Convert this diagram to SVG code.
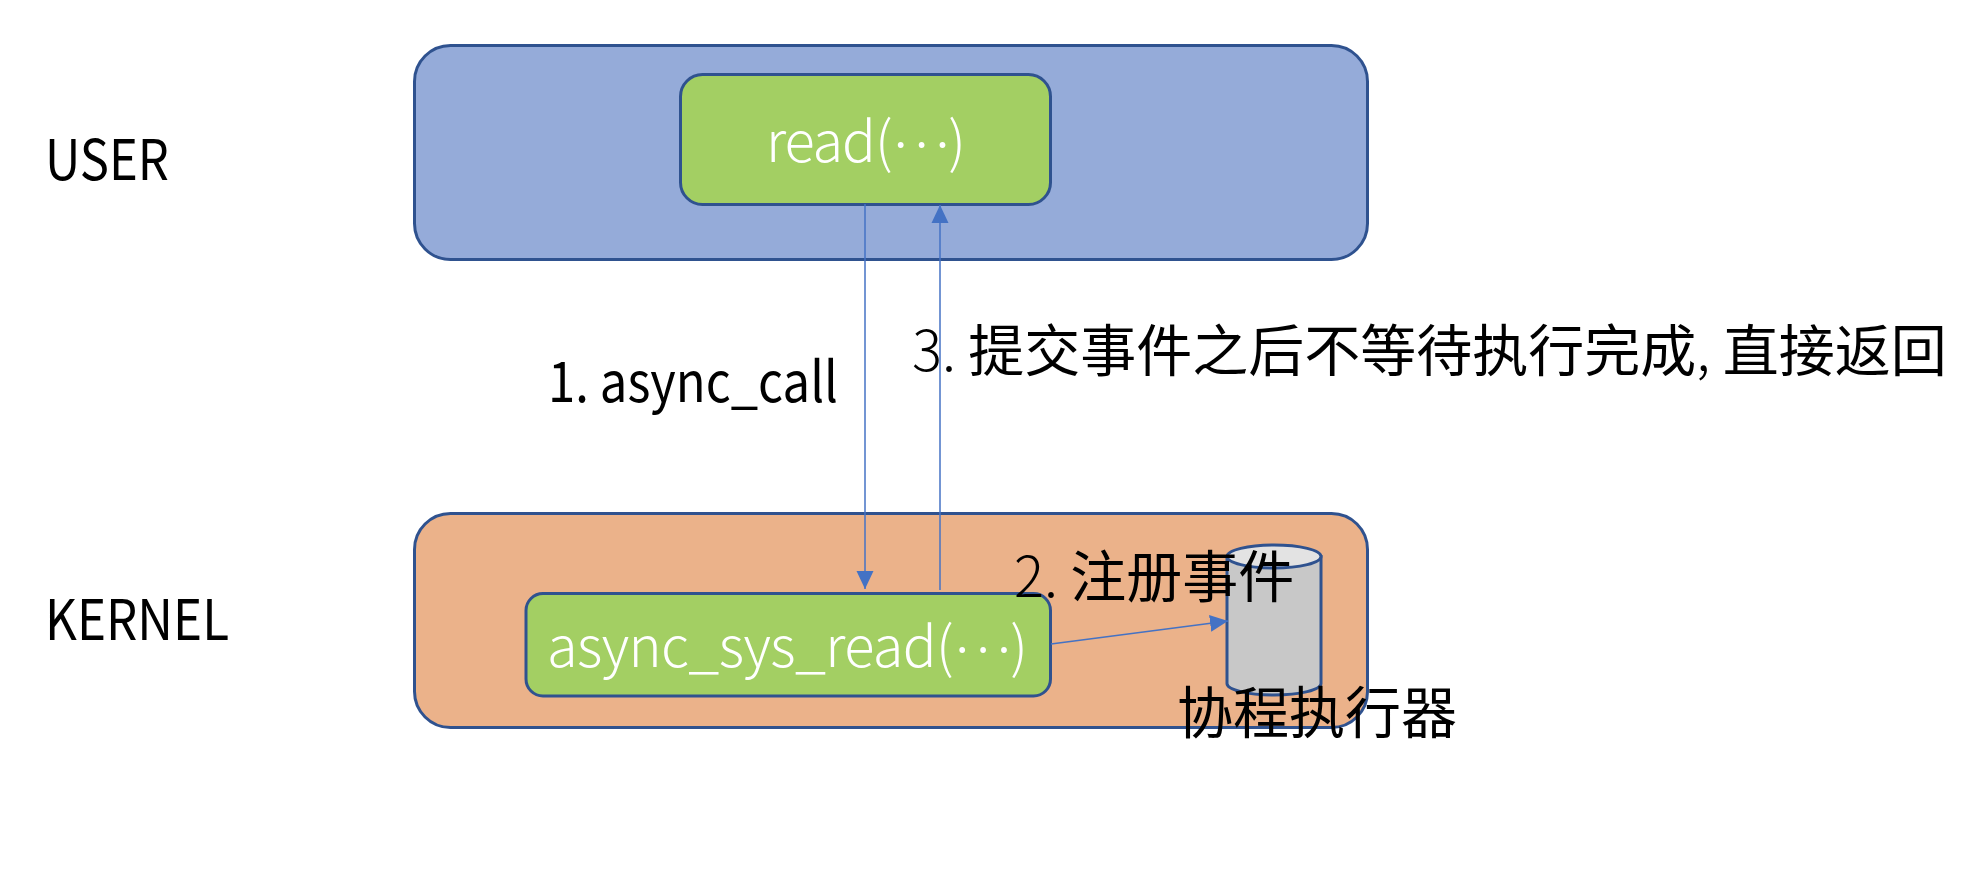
<svg xmlns="http://www.w3.org/2000/svg" width="1988" height="880" viewBox="0 0 1988 880">
<style>
text{font-family:"Noto Sans CJK SC","Noto Sans",sans-serif;font-size:56px;font-weight:400;fill:#000}
.w{fill:#fff;font-weight:300}
.l{font-weight:300}
.box{stroke:#2F528F;stroke-width:3}
.c{stroke:#4472C4;stroke-width:1.5;fill:none}
</style>
<defs>
<marker id="a" markerUnits="userSpaceOnUse" markerWidth="18" markerHeight="18" refX="18" refY="9" orient="auto"><path d="M0 0.5L18 9L0 17.5z" fill="#4472C4"/></marker>
</defs>
<rect width="1988" height="880" fill="#fff"/>
<g id="user-layer"><rect class="box" x="414.5" y="45.5" width="953" height="214" rx="36" fill="#95ABD9"/></g>
<g id="kernel-layer"><rect class="box" x="414.5" y="513.5" width="953" height="214" rx="36" fill="#EBB28A"/></g>
<g id="read"><rect class="box" x="680.5" y="74.5" width="370" height="130" rx="22" fill="#A3CF63"/><text class="w" x="766" y="162" textLength="200" lengthAdjust="spacing">read(<tspan dy="-15">…</tspan><tspan dy="15">)</tspan></text></g>
<g id="async-sys-read"><rect class="box" x="526" y="593.5" width="524.5" height="102.5" rx="17" fill="#A3CF63"/><text class="w" x="547" y="667" textLength="481" lengthAdjust="spacing">async_sys_read(<tspan dy="-15">…</tspan><tspan dy="15">)</tspan></text></g>
<g id="executor">
<path class="box" d="M1227 556.5V683.5A47 11.5 0 0 0 1321 683.5V556.5z" fill="#C8C8C8"/>
<ellipse class="box" cx="1274" cy="556.5" rx="47" ry="11.5" fill="#E3E3E3"/>
<text x="1177" y="733">协程执行器</text>
</g>
<g id="connectors">
<line class="c" x1="865" y1="204" x2="865" y2="589" marker-end="url(#a)"/>
<line class="c" x1="940" y1="590" x2="940" y2="205" marker-end="url(#a)"/>
<line class="c" x1="1051" y1="644" x2="1228" y2="621" marker-end="url(#a)"/>
</g>
<g id="labels">
<text x="45" y="180" textLength="124" lengthAdjust="spacingAndGlyphs">USER</text>
<text x="45" y="640" textLength="184" lengthAdjust="spacingAndGlyphs">KERNEL</text>
<text x="548" y="402" textLength="290" lengthAdjust="spacingAndGlyphs">1. async_call</text>
<text x="912" y="371"><tspan class="l">3. </tspan>提交事件之后不等待执行完成<tspan class="l">, </tspan>直接返回</text>
<text x="1014" y="597"><tspan class="l">2. </tspan>注册事件</text>
</g>
</svg>
